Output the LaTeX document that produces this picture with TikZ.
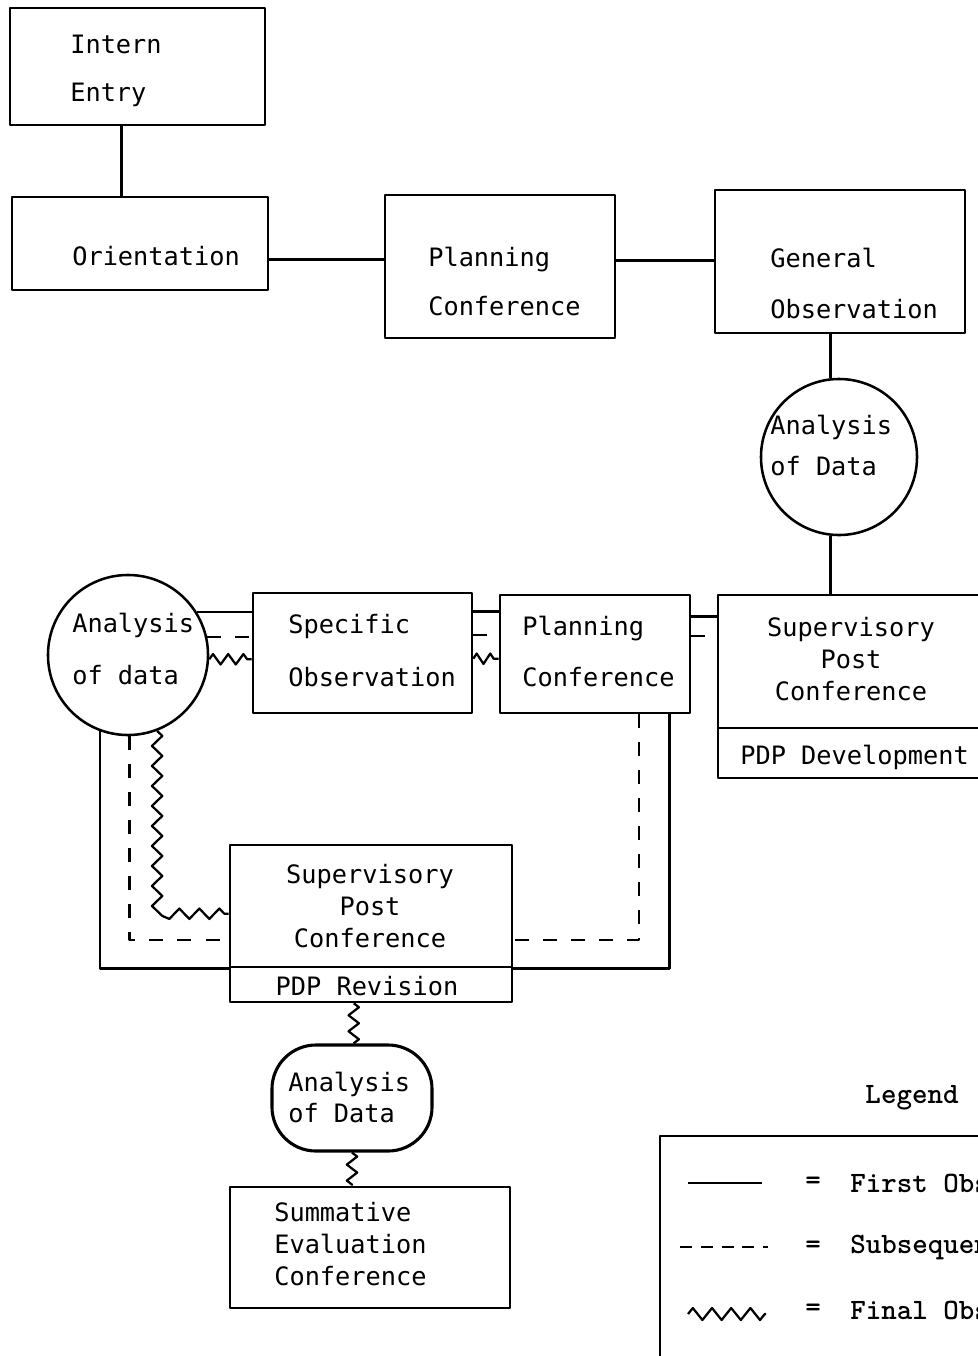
\documentclass[tikz,border=0pt]{standalone}
\usepackage{fontspec}
\setmonofont{DejaVu Sans Mono}
\newcommand{\legfont}{\fontfamily{lmtt}\selectfont}
\usetikzlibrary{calc,fit,decorations.pathmorphing}
\tikzset{
  box/.style={draw, line width=1.8pt, inner sep=0pt, rectangle},
  txt/.style={font=\ttfamily\fontsize{18}{#1}\selectfont, inner sep=0pt, align=left},
  ctxt/.style={txt=#1, align=center},
  ltxt/.style={font=\legfont\bfseries\fontsize{21}{24}\selectfont, inner sep=0pt},
  conn/.style={line width=1.8pt},
  dsh/.style={line width=1.6pt, dash pattern=on 0.35cm off 0.35cm},
  zz/.style={line width=1.6pt, decorate, decoration={zigzag, segment length=0.5cm, amplitude=0.13cm}},
  circ/.style={draw, circle, line width=1.8pt, inner sep=0pt}
}
\begin{document}
\begin{tikzpicture}[x=0.025cm, y=-0.025cm, line join=round]
\useasboundingbox (0,0) rectangle (978,1356);
\clip (0,0) rectangle (978,1356);

% ---- top row ----
\node[box, fit={(10,8) (265,125)}] (intern) {};
\node[txt=34pt, anchor=west] (intern-t) at (70,71) {Intern\\Entry};
\node[box, fit={(12,197) (268,290)}] (orient) {};
\node[txt=22pt, anchor=west] (orient-t) at (72,256) {Orientation};
\node[box, fit={(385,195) (615,338)}] (pc1) {};
\node[txt=35pt, anchor=west] (pc1-t) at (428,281.5) {Planning\\Conference};
\node[box, fit={(715,190) (965,333)}] (gobs) {};
\node[txt=36pt, anchor=west] (gobs-t) at (770,283.5) {General\\Observation};
\node[circ, minimum size=3.9cm] (a1) at (839,457) {};
\node[txt=29pt, anchor=west] (a1-t) at (770,445.5) {Analysis\\of Data};

\draw[conn] ($(intern.south west)+(113,0)$) coordinate (c1) -- (c1 |- orient.north);
\draw[conn] ($(orient.east)+(0,16)$) coordinate (c2) -- (c2 -| pc1.west);
\draw[conn] ($(pc1.east)+(0,-6)$) coordinate (c3) -- (c3 -| gobs.west);
\draw[conn] (a1.96) -- (a1.96 |- gobs.south);

% ---- middle row ----
\node[circ, minimum size=4cm] (adata) at (128,655) {};
\node[txt=37pt, anchor=west] (adata-t) at (72,649) {Analysis\\of data};
\node[box, fit={(253,593) (472,713)}] (spec) {};
\node[txt=38pt, anchor=west] (spec-t) at (288,650.5) {Specific\\Observation};
\node[box, fit={(500,595) (690,713)}] (pc2) {};
\node[txt=36pt, anchor=west] (pc2-t) at (522,651.5) {Planning\\Conference};
\node[box, fit={(718,595) (1030,728)}] (spc1) {};
\node[ctxt=23pt] (spc1-t) at (851,659) {Supervisory\\Post\\Conference};
\node[box, fit={(718,728) (1030,778)}] (pdpd) {};
\node[txt=22pt, anchor=west] (pdpd-t) at (740,757) {PDP Development};

\draw[conn] (a1.-96) -- (a1.-96 |- spc1.north);

% circle -> specific observation
\draw[conn] (adata.32.5) -- (adata.32.5 -| spec.west);
\draw[dsh] (adata.13.7) -- (adata.13.7 -| spec.west);
\draw[zz, decoration={segment length=0.38cm}] (adata.-3.6) -- (adata.-3.6 -| spec.west);

% specific observation -> planning conference
\draw[conn] ($(spec.north east)+(0,20)$) coordinate (s1) -- (s1 -| pc2.west);
\draw[dsh] ($(spec.north east)+(0,43)$) coordinate (s2) -- (s2 -| pc2.west);
\draw[zz, decoration={segment length=0.34cm}] ($(spec.north east)+(0,67)$) coordinate (s3) -- (s3 -| pc2.west);

% planning conference -> supervisory post conference
\draw[conn] ($(pc2.north east)+(0,23)$) coordinate (p1) -- (p1 -| spc1.west);
\draw[dsh] ($(pc2.north east)+(0,42)$) coordinate (p2) -- (p2 -| spc1.west);

% ---- lower loop ----
\node[box, fit={(230,845) (512,967)}] (spc) {};
\node[ctxt=23pt] (spc-t) at (370,906) {Supervisory\\Post\\Conference};
\node[box, fit={(230,967) (512,1002)}] (pdpr) {};
\node[txt=22pt] (pdpr-t) at (367,986) {PDP Revision};

\draw[conn] (adata.-110.5) |- (spc.south west);
\draw[dsh] (adata.-89) |- ($(spc.south west)+(0,-28)$);
\draw[zz] (adata.-69) |- ($(spc.north west)+(0,70)$);

\draw[conn] ($(pc2.south east)+(-22,0)$) |- (spc.south east);
\draw[dsh] ($(pc2.south east)+(-52,0)$) |- ($(spc.south east)+(0,-28)$);

% ---- bottom ----
\node[draw, rounded corners=1.1cm, minimum width=4cm, minimum height=2.65cm, inner sep=0pt, line width=2.2pt] (a3) at (352,1098) {};
\node[txt=22pt, anchor=west] (a3-t) at (288,1097.5) {Analysis\\of Data};
\node[box, fit={(230,1187) (510,1308)}] (summ) {};
\node[txt=23pt, anchor=west] (summ-t) at (274,1244) {Summative\\Evaluation\\Conference};

\draw[zz, decoration={segment length=0.4cm}] ($(pdpr.south west)+(125,0)$) coordinate (z1) -- (z1 |- a3.north);
\draw[zz, decoration={segment length=0.4cm}] (a3.south) -- (a3.south |- summ.north);

% ---- legend ----
\node[ltxt] (leg-t) at (912,1098) {Legend};
\node[box, fit={(660,1136) (1030,1420)}] (legbox) {};
\coordinate (l1a) at (688,1183); \coordinate (l1b) at (762,1183);
\coordinate (l2a) at (680,1247); \coordinate (l2b) at (768,1247);
\coordinate (l3a) at (688,1314); \coordinate (l3b) at (766,1314);
\draw[conn] (l1a) -- (l1b);
\draw[line width=1.6pt, dash pattern=on 0.3cm off 0.22cm] (l2a) -- (l2b);
\draw[zz, decoration={segment length=0.48cm, amplitude=0.15cm}] (l3a) -- (l3b);
\node[ltxt] (eq1) at (813,1183) {=};
\node[ltxt] (eq2) at (813,1247) {=};
\node[ltxt] (eq3) at (813,1310) {=};
\node[ltxt, anchor=west] (leg1) at (850,1183) {First Observation};
\node[ltxt, anchor=west] (leg2) at (850,1247) {Subsequent Observations};
\node[ltxt, anchor=west] (leg3) at (850,1310) {Final Observation};
\end{tikzpicture}
\end{document}
